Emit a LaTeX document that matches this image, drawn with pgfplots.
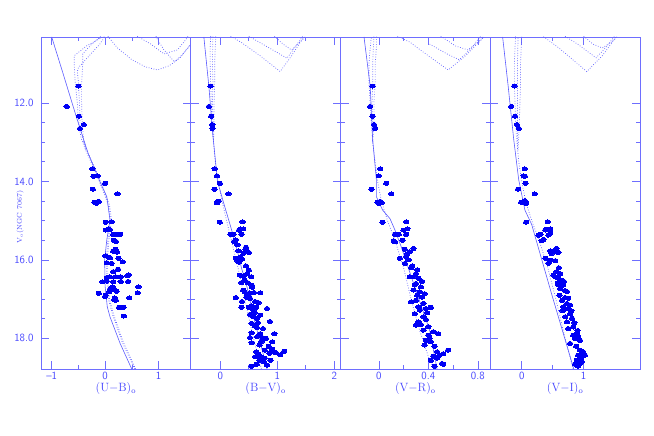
\documentclass[border=0pt]{standalone}
\usepackage{pgfplots}
\pgfplotsset{compat=1.18}
\definecolor{axcol}{RGB}{110,110,255}
\definecolor{txtcol}{RGB}{70,70,255}
\definecolor{ptcol}{RGB}{0,0,245}
\definecolor{lncol}{RGB}{90,90,255}
\pgfplotsset{
 panel/.style={scale only axis, width=149.75pt, height=332pt, anchor=south west,
   y dir=reverse, ymin=10.32, ymax=18.78, ytick={12,14,16,18}, minor y tick num=3,
   axis line style={axcol, line width=0.7pt}, every tick/.style={axcol, line width=0.7pt},
   tick align=inside, major tick length=8pt, minor tick length=4pt,
   yticklabels={},
   ticklabel style={font=\fontsize{11}{12}\selectfont\sffamily, text=txtcol},
   xlabel style={at={(axis description cs:0.5,0)}, anchor=center, yshift=-20pt, font=\fontsize{12}{14}\selectfont, text=txtcol},
   minor x tick num=1, clip=true},
 pts/.style={only marks, mark=*, mark size=2.0pt, mark options={xscale=1.35, draw=ptcol, fill=ptcol, line width=0pt}, ptcol},
 sol/.style={lncol, line width=0.6pt, no marks},
 dot/.style={lncol, line width=0.7pt, no marks, dash pattern=on 0.7pt off 1.8pt}
}
\begin{document}
\begin{tikzpicture}
\path[use as bounding box] (0pt,0pt) rectangle (654pt,436pt);
\node[rotate=90, text=txtcol, font=\fontsize{7}{8}\selectfont] at (20pt,219pt) {V$_\mathrm{o}$(NGC 7067)};
% ---------------- Panel 1: U-B
\begin{axis}[panel, at={(41pt,67pt)}, xmin=-1.2, xmax=1.6, xtick={-1,0,1}, xticklabels={--1,0,1},
  yticklabels={12.0,14.0,16.0,18.0}, yticklabel style={xshift=-4pt},
  xlabel={(U$-$B)$_\mathrm{o}$}]
\addplot[sol] coordinates {(-1.0,10.32)(-0.79,11.24)(-0.54,12.35)(-0.32,13.28)(-0.10,14.0)(0.03,14.39)(0.09,14.98)(0.03,15.49)(-0.01,16.0)(0.0,16.69)(0.04,17.2)(0.09,17.45)(0.28,18.13)(0.50,18.79)};
\addplot[dot] coordinates {(0.55,18.78)(0.32,18.1)(0.14,17.4)(0.06,17.0)(0.03,16.5)(0.02,16.0)(0.05,15.5)(0.10,15.0)(0.06,14.6)(-0.05,14.2)(-0.20,13.7)(-0.35,13.25)(-0.45,12.9)(-0.50,12.5)(-0.52,12.0)(-0.56,11.5)(-0.58,11.0)(-0.58,10.8)(-0.35,10.55)(-0.02,10.3)};
\addplot[dot] coordinates {(0.57,18.78)(0.34,18.1)(0.16,17.4)(0.08,17.0)(0.05,16.5)(0.04,16.0)(0.07,15.5)(0.12,15.0)(0.08,14.6)(-0.03,14.2)(-0.18,13.7)(-0.33,13.25)(-0.40,13.0)(-0.43,12.5)(-0.44,12.0)(-0.44,11.5)(-0.42,11.0)(-0.42,10.75)(-0.25,10.5)(-0.05,10.27)};
\addplot[dot] coordinates {(-0.36,13.2)(-0.47,12.6)(-0.48,12.0)(-0.50,11.5)(-0.52,11.2)(-0.50,11.1)(-0.30,10.8)(-0.10,10.5)(0.0,10.3)};
\addplot[dot] coordinates {(0.05,10.3)(0.23,10.6)(0.5,10.9)(0.75,11.08)(0.98,11.16)(1.2,11.05)(1.4,10.85)(1.55,10.6)(1.6,10.5)};
\addplot[dot] coordinates {(0.95,10.3)(0.98,10.39)(1.1,10.65)(1.29,10.95)(1.42,10.8)(1.57,10.55)};
\addplot[dot] coordinates {(0.6,10.3)(0.85,10.5)(1.1,10.75)(1.35,10.65)(1.5,10.4)(1.55,10.3)};
\addplot[pts] table {
-0.50 11.57
-0.72 12.09
-0.49 12.34
-0.40 12.55
-0.47 12.65
-0.24 13.68
-0.22 13.87
-0.14 13.86
0.00 14.05
0.23 14.32
-0.23 14.20
-0.20 14.53
-0.16 14.56
-0.12 14.51
0.01 15.04
0.12 15.03
0.06 15.21
0.01 15.24
0.09 15.23
0.15 15.35
0.22 15.35
0.28 15.35
0.16 15.50
0.20 15.53
0.19 15.73
0.15 15.78
0.22 15.80
0.00 15.90
0.07 15.93
0.09 15.95
0.25 15.96
0.33 16.05
0.03 16.07
0.12 16.09
0.24 16.24
0.15 16.30
0.03 16.45
0.09 16.43
0.20 16.43
0.29 16.43
0.42 16.41
0.44 16.38
-0.05 16.56
0.03 16.54
0.15 16.56
0.29 16.55
0.43 16.55
0.62 16.69
0.61 16.84
-0.12 16.85
0.01 16.90
0.00 16.93
0.14 16.69
0.10 16.75
0.17 16.76
0.08 16.81
0.21 16.80
0.45 16.97
0.18 16.97
0.20 17.03
0.17 17.01
0.26 17.21
0.34 17.21
0.30 17.21
0.35 17.43
};
\end{axis}
% ---------------- Panel 2: B-V
\begin{axis}[panel, at={(190.75pt,67pt)}, xmin=-0.52, xmax=2.11, xtick={0,1,2}, xticklabels={0,1,2},
  xlabel={(B$-$V)$_\mathrm{o}$}]
\addplot[sol] coordinates {(-0.29,10.32)(-0.20,11.6)(-0.14,12.7)(-0.05,14.0)(0.06,14.56)(0.15,15.0)(0.27,15.6)(0.37,16.2)(0.47,16.7)(0.59,17.5)(0.70,18.1)(0.82,18.78)};
\addplot[dot] coordinates {(0.72,18.78)(0.60,18.1)(0.49,17.4)(0.40,16.8)(0.31,16.2)(0.21,15.6)(0.11,15.0)(0.03,14.5)(-0.04,14.0)(-0.09,13.5)(-0.12,13.0)(-0.15,12.5)(-0.16,12.0)(-0.17,11.5)(-0.18,11.0)(-0.18,10.6)(-0.17,10.3)};
\addplot[dot] coordinates {(-0.12,13.0)(-0.11,12.5)(-0.11,12.0)(-0.10,11.5)(-0.10,11.0)(-0.09,10.6)(-0.08,10.3)};
\addplot[dot] coordinates {(-0.12,13.0)(-0.13,12.5)(-0.14,12.0)(-0.13,11.5)(-0.14,11.0)(-0.13,10.3)};
\addplot[dot] coordinates {(0.18,10.3)(0.36,10.45)(0.7,10.8)(1.05,11.2)(1.25,10.8)(1.46,10.33)};
\addplot[dot] coordinates {(0.5,10.3)(0.8,10.55)(1.17,10.86)(1.3,10.6)(1.45,10.3)};
\addplot[dot] coordinates {(0.95,10.3)(1.1,10.5)(1.25,10.65)(1.4,10.45)(1.5,10.3)};
\addplot[pts] table {
-0.17 11.57
-0.20 12.09
-0.16 12.34
-0.14 12.55
-0.14 12.65
-0.10 13.68
-0.06 13.86
-0.01 14.05
-0.10 14.20
0.14 14.32
-0.05 14.52
-0.06 14.55
-0.03 14.50
-0.01 15.04
0.39 15.03
0.35 15.21
0.40 15.21
0.33 15.24
0.18 15.35
0.23 15.35
0.37 15.35
0.27 15.49
0.24 15.53
0.32 15.77
0.44 15.73
0.50 15.81
0.41 15.83
0.35 15.92
0.27 15.96
0.38 15.98
0.33 16.06
0.30 16.02
0.50 16.26
0.47 16.35
0.34 16.39
0.41 16.41
0.54 16.43
0.43 16.52
0.48 16.58
0.37 16.58
0.55 16.64
0.40 16.77
0.43 16.82
0.52 16.84
0.59 16.83
0.70 16.84
0.50 16.92
0.52 16.98
0.27 16.96
0.38 17.06
0.61 17.06
0.67 17.09
0.55 17.17
0.50 17.21
0.63 17.21
0.82 17.24
0.37 17.21
0.58 17.28
0.52 17.39
0.70 17.41
0.58 17.45
0.64 17.49
0.87 17.57
0.55 17.62
0.61 17.69
0.64 17.72
0.95 17.88
0.55 17.86
0.70 17.88
0.65 17.95
0.74 17.98
0.52 17.98
0.91 18.09
0.72 18.09
0.55 18.11
0.69 18.17
0.78 18.30
0.91 18.28
1.12 18.33
0.63 18.34
0.97 18.36
0.86 18.38
1.05 18.42
0.72 18.47
0.61 18.47
0.88 18.56
0.69 18.56
0.64 18.66
0.82 18.68
0.55 18.71
0.76 18.60
0.45 16.15
0.56 16.70
0.46 16.95
0.60 17.35
0.66 17.60
0.75 17.75
0.80 18.00
0.85 18.20
0.67 18.40
0.78 18.50
0.45 15.68
0.30 15.62
};
\end{axis}
% ---------------- Panel 3: V-R
\begin{axis}[panel, at={(340.5pt,67pt)}, xmin=-0.31, xmax=0.9, xtick={0,0.4,0.8}, xticklabels={0,0.4,0.8},
  xlabel={(V$-$R)$_\mathrm{o}$}]
\addplot[sol] coordinates {(-0.12,10.32)(-0.07,11.58)(-0.05,12.94)(-0.02,13.96)(-0.02,14.39)(0.03,14.73)(0.09,14.95)(0.13,15.24)(0.18,15.66)(0.29,16.69)(0.41,17.79)(0.47,18.78)};
\addplot[dot] coordinates {(0.45,18.78)(0.41,18.56)(0.33,17.8)(0.26,17.0)(0.20,16.2)(0.13,15.5)(0.07,15.0)(0.02,14.5)(-0.01,14.0)(-0.03,13.5)(-0.05,13.0)(-0.06,12.5)(-0.07,12.0)(-0.08,11.5)(-0.08,11.0)(-0.07,10.6)(-0.06,10.3)};
\addplot[dot] coordinates {(-0.05,13.0)(-0.04,12.5)(-0.04,12.0)(-0.03,11.5)(-0.03,11.0)(-0.02,10.6)(-0.02,10.3)};
\addplot[dot] coordinates {(-0.05,13.0)(-0.05,12.5)(-0.055,12.0)(-0.05,11.5)(-0.05,11.0)(-0.04,10.3)};
\addplot[dot] coordinates {(0.15,10.3)(0.25,10.45)(0.40,10.8)(0.56,11.16)(0.70,10.8)(0.84,10.35)};
\addplot[dot] coordinates {(0.41,10.5)(0.55,10.75)(0.65,10.9)(0.75,10.6)(0.82,10.3)};
\addplot[dot] coordinates {(0.50,10.3)(0.62,10.55)(0.72,10.65)(0.80,10.45)(0.85,10.3)};
\addplot[pts] table {
-0.05 11.57
-0.07 12.09
-0.05 12.34
-0.04 12.55
-0.03 12.65
0.01 13.68
0.00 13.86
0.06 14.05
-0.06 14.20
0.10 14.32
-0.01 14.53
0.01 14.51
0.00 14.56
0.02 14.55
0.03 15.04
0.22 15.03
0.23 15.21
0.20 15.24
0.13 15.35
0.16 15.35
0.22 15.35
0.12 15.51
0.13 15.54
0.21 15.73
0.28 15.71
0.25 15.79
0.23 15.84
0.17 15.96
0.22 15.92
0.24 16.00
0.21 16.09
0.30 16.35
0.28 16.43
0.32 16.47
0.25 16.43
0.30 16.60
0.29 16.64
0.34 16.69
0.28 16.77
0.33 16.81
0.37 16.86
0.26 17.07
0.30 17.03
0.36 17.11
0.42 17.21
0.32 17.20
0.33 17.28
0.38 17.24
0.29 17.37
0.36 17.45
0.38 17.52
0.32 17.58
0.30 17.66
0.36 17.79
0.44 17.83
0.40 17.92
0.41 18.00
0.48 17.88
0.37 18.17
0.42 18.09
0.38 18.05
0.47 18.34
0.52 18.39
0.56 18.30
0.49 18.43
0.42 18.56
0.51 18.64
0.45 18.71
0.52 18.66
0.26 16.20
0.31 16.25
0.35 16.55
0.31 16.90
0.35 16.95
0.39 17.35
0.34 17.65
0.40 17.70
0.45 18.20
0.44 18.45
0.47 18.50
0.27 16.15
0.19 15.50
};
\end{axis}
% ---------------- Panel 4: V-I
\begin{axis}[panel, at={(490.25pt,67pt)}, xmin=-0.51, xmax=1.91, xtick={0,1}, xticklabels={0,1},
  xlabel={(V$-$I)$_\mathrm{o}$}]
\addplot[sol] coordinates {(-0.31,10.32)(-0.22,11.58)(-0.13,12.94)(-0.05,13.96)(0.05,14.73)(0.16,15.1)(0.48,16.86)(0.84,18.78)};
\addplot[dot] coordinates {(0.83,18.78)(0.70,18.0)(0.55,17.0)(0.42,16.2)(0.28,15.5)(0.16,15.0)(0.06,14.5)(0.00,14.0)(-0.05,13.5)(-0.08,13.0)(-0.10,12.5)(-0.11,12.0)(-0.12,11.5)(-0.12,11.0)(-0.11,10.6)(-0.10,10.3)};
\addplot[dot] coordinates {(-0.06,13.2)(-0.04,12.5)(-0.03,12.0)(-0.02,11.5)(-0.02,11.0)(-0.01,10.6)(0.0,10.3)};
\addplot[dot] coordinates {(-0.07,13.1)(-0.07,12.5)(-0.07,12.0)(-0.07,11.5)(-0.07,11.0)(-0.06,10.3)};
\addplot[dot] coordinates {(0.35,10.31)(0.6,10.6)(1.05,11.2)(1.3,10.8)(1.53,10.31)};
\addplot[dot] coordinates {(0.7,10.3)(0.9,10.5)(1.2,10.85)(1.35,10.6)(1.5,10.3)};
\addplot[dot] coordinates {(1.0,10.3)(1.15,10.5)(1.3,10.6)(1.45,10.45)(1.55,10.3)};
\addplot[pts] table {
-0.12 11.57
-0.17 12.09
-0.11 12.34
-0.08 12.55
-0.05 12.65
0.05 13.68
0.03 13.86
0.05 13.87
0.06 14.05
-0.06 14.20
0.21 14.32
-0.01 14.53
0.05 14.49
0.07 14.56
0.04 14.54
0.07 15.04
0.42 15.03
0.46 15.21
0.40 15.22
0.38 15.24
0.27 15.37
0.30 15.35
0.43 15.37
0.46 15.32
0.35 15.48
0.32 15.51
0.56 15.71
0.54 15.77
0.46 15.77
0.48 15.84
0.59 15.81
0.38 15.96
0.46 16.01
0.54 16.02
0.43 16.09
0.56 16.30
0.62 16.35
0.54 16.43
0.59 16.47
0.65 16.52
0.51 16.39
0.59 16.64
0.67 16.64
0.62 16.73
0.73 16.81
0.61 16.90
0.70 16.96
0.65 17.03
0.75 16.98
0.73 17.11
0.78 17.15
0.67 17.20
0.75 17.24
0.78 17.37
0.70 17.45
0.81 17.49
0.73 17.58
0.83 17.71
0.75 17.75
0.89 17.88
0.91 17.96
0.86 18.00
0.94 18.05
0.83 17.92
0.78 18.13
0.94 18.30
0.99 18.34
0.97 18.39
1.02 18.43
0.91 18.43
0.89 18.56
0.94 18.64
0.91 18.71
0.86 18.66
0.97 18.60
0.60 16.20
0.68 16.55
0.70 16.78
0.80 17.30
0.85 17.60
0.90 17.80
0.88 18.20
0.96 18.50
0.58 16.58
0.66 17.30
};
\end{axis}
\end{tikzpicture}
\end{document}
